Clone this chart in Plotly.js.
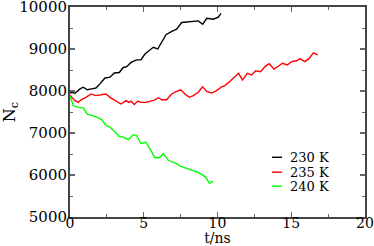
<!DOCTYPE html>
<html><head><meta charset="utf-8">
<script src="https://cdn.plot.ly/plotly-3.0.1.min.js"></script>
<style>html,body{margin:0;padding:0;background:#fff}#c{width:374px;height:246px}</style>
</head><body><div id="c"></div>
<script>
const seriesNames = ["230 K", "235 K", "240 K"];
const seriesColors = ["#000000", "#ff0000", "#00ff00"];

const t230 = [0.0,0.12,0.34,0.68,0.9,1.17,1.47,1.76,2.03,2.37,2.71,3.0,3.34,3.61,3.84,4.14,4.52,4.81,5.08,5.38,5.65,5.95,6.22,6.51,6.9,7.23,7.57,7.91,8.36,8.7,9.0,9.27,9.72,10.05,10.24];
const n230 = [7950,7970,7945,8050,8090,8030,8050,8070,8170,8310,8330,8430,8440,8560,8580,8680,8740,8740,8880,8970,9040,9000,9180,9340,9420,9470,9630,9640,9650,9670,9590,9730,9710,9760,9850];

const t235 = [0.0,0.34,0.56,0.75,1.08,1.42,1.76,2.1,2.44,2.78,3.12,3.46,3.8,3.98,4.14,4.36,4.6,4.81,5.15,5.49,5.76,5.99,6.22,6.55,6.89,7.23,7.5,7.8,8.09,8.36,8.7,8.99,9.27,9.6,9.94,10.28,10.5,10.85,11.2,11.43,11.7,12.02,12.32,12.59,12.93,13.22,13.51,13.83,14.12,14.4,14.73,15.03,15.37,15.59,15.93,16.2,16.5,16.8];
const n235 = [7900,7770,7730,7790,7850,7930,7890,7910,7930,7830,7770,7690,7770,7730,7760,7680,7760,7730,7730,7770,7790,7840,7790,7790,7930,7990,8030,7930,7850,7890,7970,8100,7990,7950,8010,8100,8130,8230,8340,8420,8260,8420,8380,8480,8460,8580,8650,8520,8590,8660,8620,8700,8720,8770,8700,8770,8910,8860];

const t240 = [0.0,0.12,0.23,0.56,0.9,1.17,1.47,1.81,2.15,2.44,2.71,3.05,3.34,3.61,3.95,4.29,4.52,4.81,5.15,5.47,5.76,6.06,6.33,6.67,7.0,7.23,7.46,7.8,8.1,8.4,8.7,9.0,9.2,9.45,9.7];
const n240 = [7880,7730,7650,7610,7600,7450,7420,7380,7320,7180,7140,7020,6920,6900,6840,6960,6940,6750,6780,6590,6410,6410,6510,6350,6310,6270,6210,6170,6150,6100,6060,6000,5950,5800,5850];

const xTitle = "t/ns";
const yTitle = "N<sub>c</sub>";

const ts = [t230, t235, t240];
const ns = [n230, n235, n240];
const traces = ts.map((t, i) => ({
  x: t, y: ns[i], type: "scatter", mode: "lines", name: seriesNames[i],
  line: {color: seriesColors[i], width: 1.4}, showlegend: false
}));

const serif = "DejaVu Serif";
const axisCommon = {
  showgrid: false, zeroline: false, showline: true, linecolor: "#444", linewidth: 2,
  mirror: "ticks", ticks: "inside", ticklen: 5, tickwidth: 1.2, tickcolor: "#666",
  tickfont: {family: serif, size: 15, color: "#000"}, tickformat: "d", ticklabeloverflow: "allow",
};

// legend built in paper coordinates
const legX0 = 0.6847, legX1 = 0.7186, legTx = 0.739;
const legY = [0.2844, 0.2133, 0.1469];
const shapes = seriesNames.map((s, i) => ({
  type: "line", xref: "paper", yref: "paper", x0: legX0, x1: legX1, y0: legY[i], y1: legY[i],
  line: {color: seriesColors[i], width: 1.4}
}));
const annotations = seriesNames.map((s, i) => ({
  xref: "paper", yref: "paper", x: legTx, y: legY[i], xanchor: "left", yanchor: "middle",
  text: s, showarrow: false, font: {family: serif, size: 13, color: "#000"}
}));

const layout = {
  width: 374, height: 246,
  margin: {l: 70, r: 9, t: 7, b: 29},
  paper_bgcolor: "#fff", plot_bgcolor: "#fff",
  font: {family: serif},
  xaxis: Object.assign({}, axisCommon, {
    range: [0, 20], dtick: 5, tick0: 0, ticklabelstandoff: -8,
    tickfont: {family: serif, size: 14, color: "#000"},
    minor: {dtick: 2.5, ticks: "inside", ticklen: 3, tickcolor: "#666", tickwidth: 1},
    title: {text: xTitle, font: {family: serif, size: 14, color: "#000"}, standoff: 3}
  }),
  yaxis: Object.assign({}, axisCommon, {
    range: [5000, 10000], dtick: 1000, tick0: 5000, ticklabelstandoff: -2,
    minor: {dtick: 500, ticks: "inside", ticklen: 3, tickcolor: "#666", tickwidth: 1},
    title: {text: yTitle, font: {family: serif, size: 16, color: "#000"}, standoff: 4}
  }),
  shapes: shapes, annotations: annotations, showlegend: false
};
Plotly.newPlot("c", traces, layout, {displayModeBar: false, staticPlot: true});
</script></body></html>
